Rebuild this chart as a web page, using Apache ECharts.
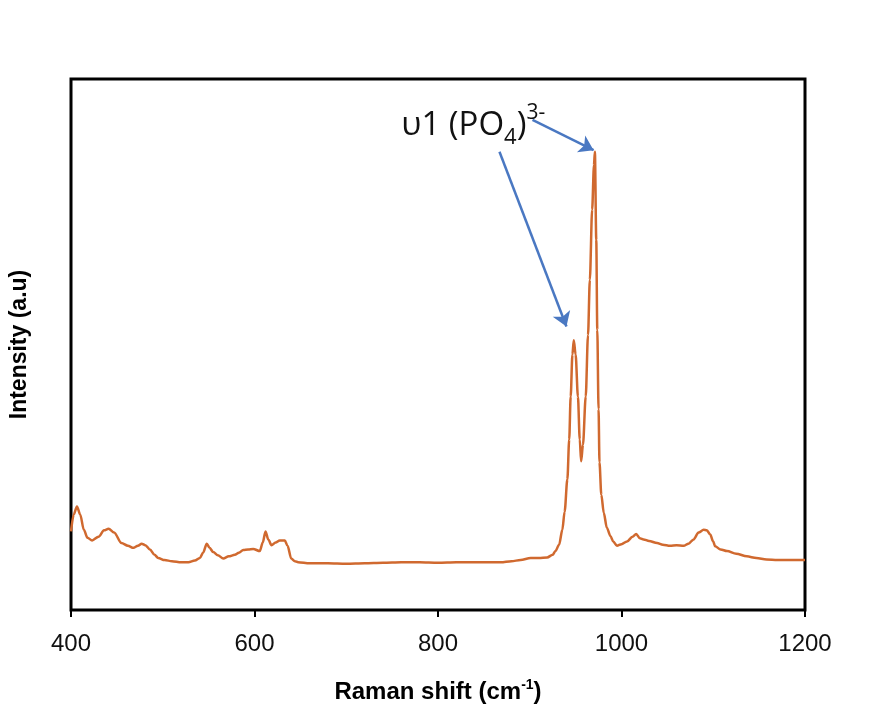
<!DOCTYPE html>
<html>
<head>
<meta charset="utf-8">
<script src="https://cdn.jsdelivr.net/npm/echarts@6/dist/echarts.min.js"></script>
<style>
  html, body { margin: 0; padding: 0; background: #fff; }
  #chart { width: 875px; height: 712px; }
</style>
</head>
<body>
<div id="chart"></div>
<script>
// Raman shift (cm-1) and intensity (a.u.)
const ramanShift = [
  400, 403, 406.5, 410, 414, 418, 423, 430, 436, 441, 447, 455, 462, 468, 473, 477, 481, 486, 491, 495,
  502, 510, 520, 528, 535, 540.5, 544, 548, 551, 555, 560, 566, 572, 578.6, 583, 587.7, 593, 598.6, 605.8, 609,
  612, 615, 618.5, 623, 627.5, 633, 636, 640, 644, 647.5, 660, 680, 700, 720, 740, 760, 780, 800, 820, 840,
  860, 868.5, 880, 890, 901, 910, 919, 925, 928, 932, 935.5, 938, 941, 943, 944.6, 946.5, 948, 950, 952.5, 954.5,
  956, 958, 961, 963.5, 965.5, 968, 970, 971, 972.5, 973.6, 975, 976, 978, 980.7, 984, 988, 991, 995, 1000, 1006,
  1012, 1016, 1020, 1024, 1030, 1038.8, 1045, 1053, 1060, 1067.7, 1073, 1078.6, 1084, 1089.5, 1093, 1096.7, 1100, 1102, 1108, 1115,
  1125, 1136.6, 1147, 1158, 1170, 1180, 1190, 1200
];
const intensity = [
  14.8, 18.0, 19.5, 18.0, 15.1, 13.6, 13.1, 13.8, 15.0, 15.3, 14.6, 12.6, 12.1, 11.7, 12.1, 12.5, 12.2, 11.4, 10.4, 9.8,
  9.4, 9.2, 9.0, 9.0, 9.3, 9.8, 10.8, 12.5, 11.7, 10.9, 10.3, 9.7, 10.1, 10.4, 10.8, 11.3, 11.4, 11.5, 11.1, 12.7,
  14.8, 13.3, 12.2, 12.7, 13.1, 13.1, 12.1, 9.7, 9.2, 9.0, 8.8, 8.8, 8.7, 8.8, 8.9, 9.0, 9.0, 8.9, 9.0, 9.0,
  9.0, 9.0, 9.2, 9.4, 9.8, 9.8, 9.9, 10.4, 11.1, 12.3, 15.1, 18.5, 24.6, 32.1, 40.2, 48.1, 50.8, 48.1, 40.2, 32.1,
  28.0, 31.1, 40.2, 51.8, 62.2, 75.4, 83.8, 86.3, 69.7, 52.8, 37.8, 27.8, 21.7, 18.3, 15.5, 13.9, 12.9, 12.1, 12.4, 12.9,
  13.8, 14.3, 13.5, 13.3, 13.0, 12.6, 12.3, 12.1, 12.2, 12.1, 12.5, 13.3, 14.6, 15.1, 15.0, 14.2, 12.9, 12.0, 11.4, 11.1,
  10.6, 10.1, 9.8, 9.5, 9.4, 9.4, 9.4, 9.4
];
const xTicks = [400, 600, 800, 1000, 1200];

// annotation arrows [start, end] in data units
const arrowLines = [
  [[867, 86.3], [940, 53.4]],
  [[903, 92.3], [969.6, 86.6]]
];
const labelAnchor = [760, 91.2];

const chart = echarts.init(document.getElementById('chart'));

const option = {
  animation: false,
  backgroundColor: '#fff',
  grid: {
    left: 70, right: 70, top: 79, bottom: 102,
    show: true, borderColor: '#000', borderWidth: 3
  },
  xAxis: {
    type: 'value',
    min: xTicks[0],
    max: xTicks[xTicks.length - 1],
    interval: 200,
    name: '{a|Raman shift (cm}{s|-1}{a|)}',
    nameLocation: 'middle',
    nameGap: 68,
    nameTextStyle: {
      rich: {
        a: { fontFamily: 'Liberation Sans, Arial', fontWeight: 'bold', fontSize: 24, color: '#000', lineHeight: 28 },
        s: { fontFamily: 'Liberation Sans, Arial', fontWeight: 'bold', fontSize: 14, color: '#000', lineHeight: 28, verticalAlign: 'top' }
      }
    },
    axisLine: { show: false },
    axisTick: { show: true, length: 7, lineStyle: { color: '#000', width: 2 } },
    axisLabel: {
      fontFamily: 'Liberation Sans, Arial', fontSize: 24, color: '#111', margin: 22,
      formatter: (v) => String(v)
    },
    splitLine: { show: false }
  },
  yAxis: {
    type: 'value',
    min: 0,
    max: 100,
    name: 'Intensity (a.u)',
    nameLocation: 'middle',
    nameRotate: 90,
    nameGap: 40,
    nameTextStyle: { fontFamily: 'Liberation Sans, Arial', fontWeight: 'bold', fontSize: 23, color: '#000' },
    axisLine: { show: false },
    axisTick: { show: false },
    axisLabel: { show: false },
    splitLine: { show: false }
  },
  series: [
    {
      type: 'line',
      data: ramanShift.map((x, i) => [x, intensity[i]]),
      showSymbol: false,
      smooth: 0.3,
      smoothMonotone: 'x',
      lineStyle: { color: '#D0692F', width: 2.5 },
      itemStyle: { color: '#D0692F' },
      markLine: {
        silent: true,
        symbol: ['none', 'arrow'],
        symbolSize: 14,
        label: { show: false },
        lineStyle: { color: '#4A78C2', width: 2.5, type: 'solid' },
        data: arrowLines.map(([a, b]) => [{ coord: a }, { coord: b }])
      },
      markPoint: {
        silent: true,
        symbol: 'circle',
        symbolSize: 0,
        data: [{ coord: labelAnchor }],
        label: {
          show: true,
          position: [0, 0],
          align: 'left',
          verticalAlign: 'middle',
          formatter: '{m|\u03c51 (PO}{sub|4}{m|)}{sup|3-}',
          rich: {
            m: { fontFamily: 'Open Sans', fontSize: 33, color: '#111', lineHeight: 46 },
            sub: { fontFamily: 'Open Sans', fontSize: 22, color: '#111', lineHeight: 46, verticalAlign: 'bottom' },
            sup: { fontFamily: 'Open Sans', fontSize: 21, color: '#111', lineHeight: 46, verticalAlign: 'top' }
          }
        }
      }
    }
  ]
};

chart.setOption(option);
</script>
</body>
</html>
